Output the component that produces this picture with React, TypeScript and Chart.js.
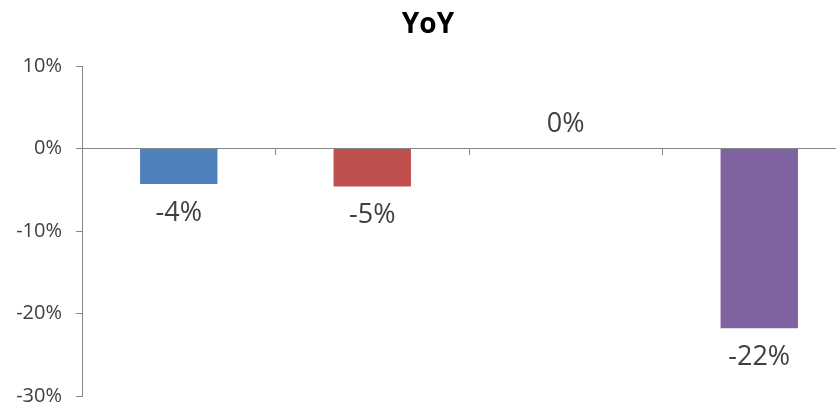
import React, { useEffect, useRef } from "react";
import { Chart, registerables } from "chart.js";

Chart.register(...registerables);

const categories = ["A", "B", "C", "D"];
const values = [-4.3, -4.6, 0, -21.8];
const barColors = ["#4F81BD", "#C0504D", "#9BBB59", "#8064A2"];
const yMin = -30;
const yMax = 10;
const yStep = 10;
const titleText = "YoY";

const labelPlugin = {
  id: "barValueLabels",
  afterDatasetsDraw(chart: any) {
    const ctx = chart.ctx;
    const meta = chart.getDatasetMeta(0);
    ctx.save();
    ctx.font = "27px 'Open Sans'";
    ctx.fillStyle = "#404040";
    ctx.textAlign = "center";
    ctx.textBaseline = "middle";
    meta.data.forEach((bar: any, i: number) => {
      const v = values[i];
      const txt = Math.round(v) + "%";
      const y = v < 0 ? bar.y + 29 : bar.y - 24;
      ctx.fillText(txt === "-0%" ? "0%" : txt, bar.x, y);
    });
    ctx.restore();
  },
};

export default function App() {
  const ref = useRef<HTMLCanvasElement>(null);
  useEffect(() => {
    document.body.style.margin = "0";
    document.body.style.overflow = "hidden";
    const chart = new Chart(ref.current as HTMLCanvasElement, {
      type: "bar",
      data: {
        labels: categories,
        datasets: [
          {
            data: values,
            backgroundColor: barColors,
            borderWidth: 0,
            categoryPercentage: 1,
            barPercentage: 0.4,
          },
        ],
      },
      options: {
        responsive: false,
        animation: false,
        layout: { padding: { left: 0, right: 14, bottom: 10, top: 0 } },
        plugins: {
          legend: { display: false },
          tooltip: { enabled: false },
          title: {
            display: true,
            text: titleText,
            color: "#000000",
            font: { family: "'Open Sans'", size: 28, weight: "bold", lineHeight: 1.2 },
            padding: { top: 8.5, bottom: 23.9 },
          },
        },
        scales: {
          x: {
            position: { y: 0 } as any,
            offset: true,
            ticks: { display: false },
            grid: {
              display: true,
              drawOnChartArea: false,
              drawTicks: true,
              tickLength: 6,
              offset: true,
              color: "#868686",
            },
            border: { display: true, color: "#868686", width: 1 },
          },
          y: {
            min: yMin,
            max: yMax,
            ticks: {
              stepSize: yStep,
              padding: 14,
              color: "#404040",
              font: { family: "'Open Sans'", size: 20 },
              callback: (v: any) => v + "%",
            },
            grid: {
              display: true,
              drawOnChartArea: false,
              drawTicks: true,
              tickLength: 6,
              color: "#868686",
            },
            border: { display: true, color: "#868686", width: 1 },
            afterFit: (scale: any) => {
              scale.width = 82;
              scale.paddingTop = 0;
              scale.paddingBottom = 0;
            },
          },
        },
      },
      plugins: [labelPlugin],
    });
    return () => chart.destroy();
  }, []);
  return (
    <div style={{ position: "fixed", left: 0, top: 0, width: 870, height: 406, background: "#fff" }}>
      <canvas ref={ref} width={870} height={406} />
    </div>
  );
}
